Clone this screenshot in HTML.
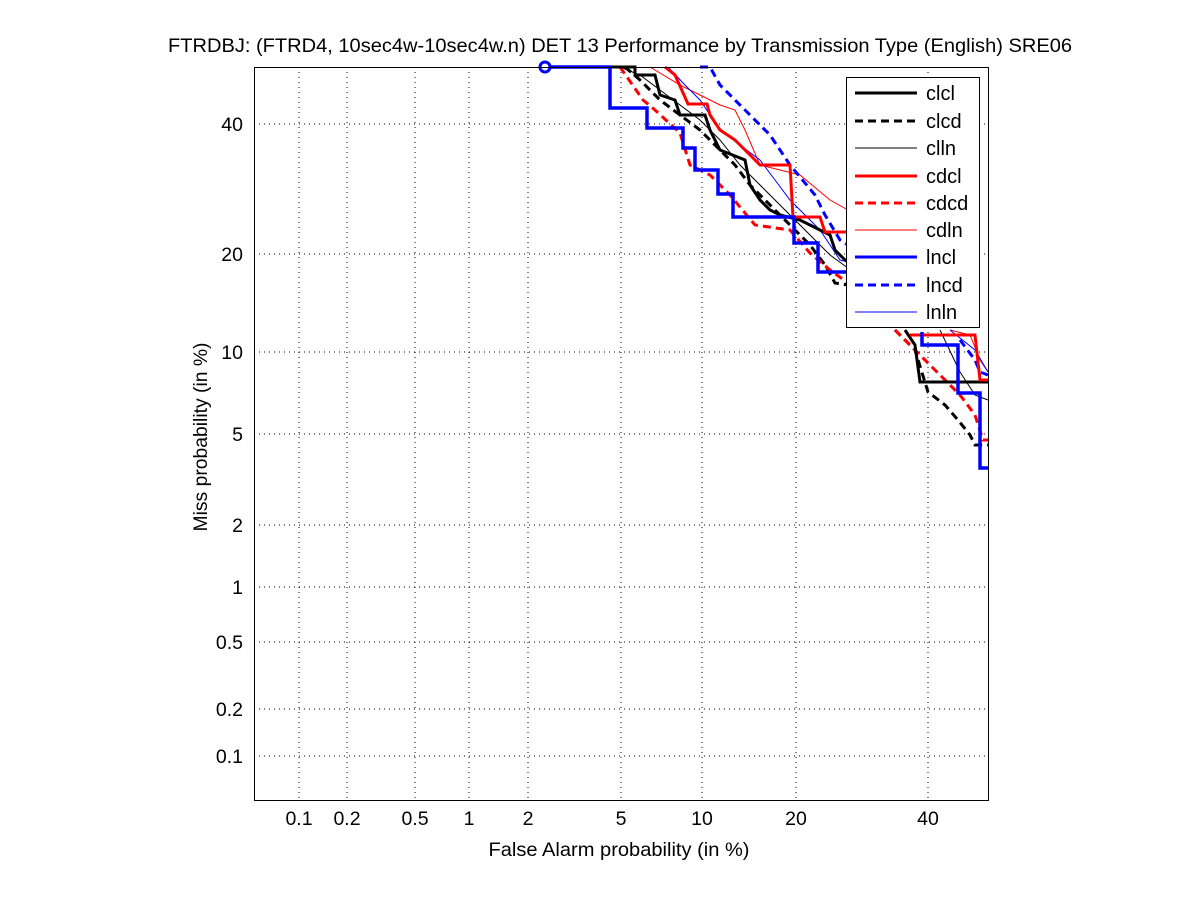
<!DOCTYPE html>
<html><head><style>
body{margin:0;background:#fff;}
svg{display:block;font-family:"Liberation Sans",sans-serif;}
</style></head><body>
<svg width="1201" height="900" xmlns="http://www.w3.org/2000/svg">
<rect width="1201" height="900" fill="#fff"/>
<g stroke="#000" stroke-width="1" stroke-dasharray="1,4" fill="none">
<line x1="299" y1="67" x2="299" y2="800"/><line x1="347" y1="67" x2="347" y2="800"/>
<line x1="415" y1="67" x2="415" y2="800"/><line x1="469" y1="67" x2="469" y2="800"/>
<line x1="528" y1="67" x2="528" y2="800"/><line x1="621" y1="67" x2="621" y2="800"/>
<line x1="702" y1="67" x2="702" y2="800"/><line x1="796" y1="67" x2="796" y2="800"/>
<line x1="928" y1="67" x2="928" y2="800"/>
<line x1="254" y1="124" x2="988" y2="124"/><line x1="254" y1="254" x2="988" y2="254"/>
<line x1="254" y1="352" x2="988" y2="352"/><line x1="254" y1="434" x2="988" y2="434"/>
<line x1="254" y1="525" x2="988" y2="525"/><line x1="254" y1="587" x2="988" y2="587"/>
<line x1="254" y1="642" x2="988" y2="642"/><line x1="254" y1="709" x2="988" y2="709"/>
<line x1="254" y1="756" x2="988" y2="756"/>
</g>
<g fill="none" stroke-linejoin="miter">
<polyline stroke="#000" stroke-width="1" points="620,67 640,75 660,90 700,120 720,140 740,165 760,185 790,215 810,235 830,255 848,268"/>
<polyline stroke="#000" stroke-width="1" points="940,330 960,372 975,395 988,400"/>
<polyline stroke="#f00" stroke-width="1" points="650,67 680,85 720,105 735,110 745,130 760,165 800,175 830,200 848,210"/>
<polyline stroke="#f00" stroke-width="1" points="950,330 970,335 980,360 988,372"/>
<polyline stroke="#00f" stroke-width="1" points="668,67 685,85 700,100 720,130 740,145 760,160 775,180 790,200 820,230 840,260 848,262"/>
<polyline stroke="#00f" stroke-width="1" points="950,330 975,350 988,372"/>
<polyline stroke="#000" stroke-width="3" stroke-dasharray="8,5" points="625,67 640,80 660,100 680,115 700,130 720,150 735,165 750,185 765,200 790,225 810,245 825,265 835,283 848,285"/>
<polyline stroke="#000" stroke-width="3" stroke-dasharray="8,5" points="895,330 915,350 928,392 945,405 958,420 970,435 975,445 988,445"/>
<polyline stroke="#f00" stroke-width="3" stroke-dasharray="8,5" points="620,67 643,100 655,110 680,133 690,165 710,175 730,195 755,225 790,230 810,253 830,270 848,283"/>
<polyline stroke="#f00" stroke-width="3" stroke-dasharray="8,5" points="895,330 915,350 935,370 950,385 960,395 975,415 983,440 988,440"/>
<polyline stroke="#00f" stroke-width="3" stroke-dasharray="8,5" points="700,67 710,67 720,85 745,110 770,135 790,165 815,195 825,215 840,240 848,245"/>
<polyline stroke="#00f" stroke-width="3" stroke-dasharray="8,5" points="960,340 975,360 980,372 988,375"/>
<polyline stroke="#000" stroke-width="3" points="607,67 635,67 635,75 655,75 660,95 675,100 680,115 705,115 710,130 720,150 745,160 750,185 760,200 770,210 780,215 800,220 810,225 820,230 830,235 835,250 845,260 848,262"/>
<polyline stroke="#000" stroke-width="3" points="905,330 915,345 920,382 988,382"/>
<polyline stroke="#f00" stroke-width="3" points="665,67 675,75 688,104 707,104 710,115 720,130 735,140 745,150 755,160 760,165 790,165 793,217 820,217 825,232 848,232"/>
<polyline stroke="#f00" stroke-width="3" points="910,335 975,335 980,380 988,380"/>
<polyline stroke="#00f" stroke-width="3.5" points="545,67 610,67 610,108 647,108 647,128 683,128 683,148 695,148 695,170 718,170 718,194 733,194 733,217 794,217 794,243 818,243 818,272 848,272"/>
<polyline stroke="#00f" stroke-width="3.5" points="922,332 922,345 958,345 958,393 980,393 980,468 988,468"/>
<circle cx="545" cy="67" r="5" stroke="#00f" stroke-width="3" fill="#fff"/>
</g>
<rect x="254.5" y="67.5" width="734" height="733" fill="none" stroke="#000"/>
<rect x="846.5" y="77.5" width="133" height="250" fill="#fff" stroke="#000"/>
<g fill="none">
<line x1="855" y1="93" x2="917" y2="93" stroke="#000" stroke-width="3"/>
<line x1="855" y1="121" x2="917" y2="121" stroke="#000" stroke-width="3" stroke-dasharray="8,5"/>
<line x1="855" y1="148" x2="917" y2="148" stroke="#000" stroke-width="1"/>
<line x1="855" y1="176" x2="917" y2="176" stroke="#f00" stroke-width="3"/>
<line x1="855" y1="203" x2="917" y2="203" stroke="#f00" stroke-width="3" stroke-dasharray="8,5"/>
<line x1="855" y1="230" x2="917" y2="230" stroke="#f00" stroke-width="1"/>
<line x1="855" y1="257" x2="917" y2="257" stroke="#00f" stroke-width="3"/>
<line x1="855" y1="285" x2="917" y2="285" stroke="#00f" stroke-width="3" stroke-dasharray="8,5"/>
<line x1="855" y1="312" x2="917" y2="312" stroke="#00f" stroke-width="1"/>
</g>
<g font-size="20" fill="#000">
<text x="926" y="100">clcl</text><text x="926" y="128">clcd</text><text x="926" y="155">clln</text>
<text x="926" y="183">cdcl</text><text x="926" y="210">cdcd</text><text x="926" y="237">cdln</text>
<text x="926" y="264">lncl</text><text x="926" y="292">lncd</text><text x="926" y="319">lnln</text>
</g>
<g font-size="19.5" fill="#000" text-anchor="middle">
<text x="299" y="825">0.1</text><text x="347" y="825">0.2</text><text x="415" y="825">0.5</text>
<text x="469" y="825">1</text><text x="528" y="825">2</text><text x="621" y="825">5</text>
<text x="702" y="825">10</text><text x="796" y="825">20</text><text x="928" y="825">40</text>
<text x="619" y="856" textLength="261" lengthAdjust="spacingAndGlyphs">False Alarm probability (in %)</text>
<text x="620" y="52" textLength="904" lengthAdjust="spacingAndGlyphs">FTRDBJ: (FTRD4, 10sec4w-10sec4w.n) DET 13 Performance by Transmission Type (English) SRE06</text>
</g>
<g font-size="19.5" fill="#000" text-anchor="end">
<text x="243" y="131">40</text><text x="243" y="261">20</text><text x="243" y="359">10</text>
<text x="243" y="441">5</text><text x="243" y="532">2</text><text x="243" y="594">1</text>
<text x="243" y="649">0.5</text><text x="243" y="716">0.2</text><text x="243" y="763">0.1</text>
</g>
<text x="207" y="437" font-size="19.5" text-anchor="middle" textLength="189" lengthAdjust="spacingAndGlyphs" transform="rotate(-90 207 437)">Miss probability (in %)</text>
</svg>
</body></html>
